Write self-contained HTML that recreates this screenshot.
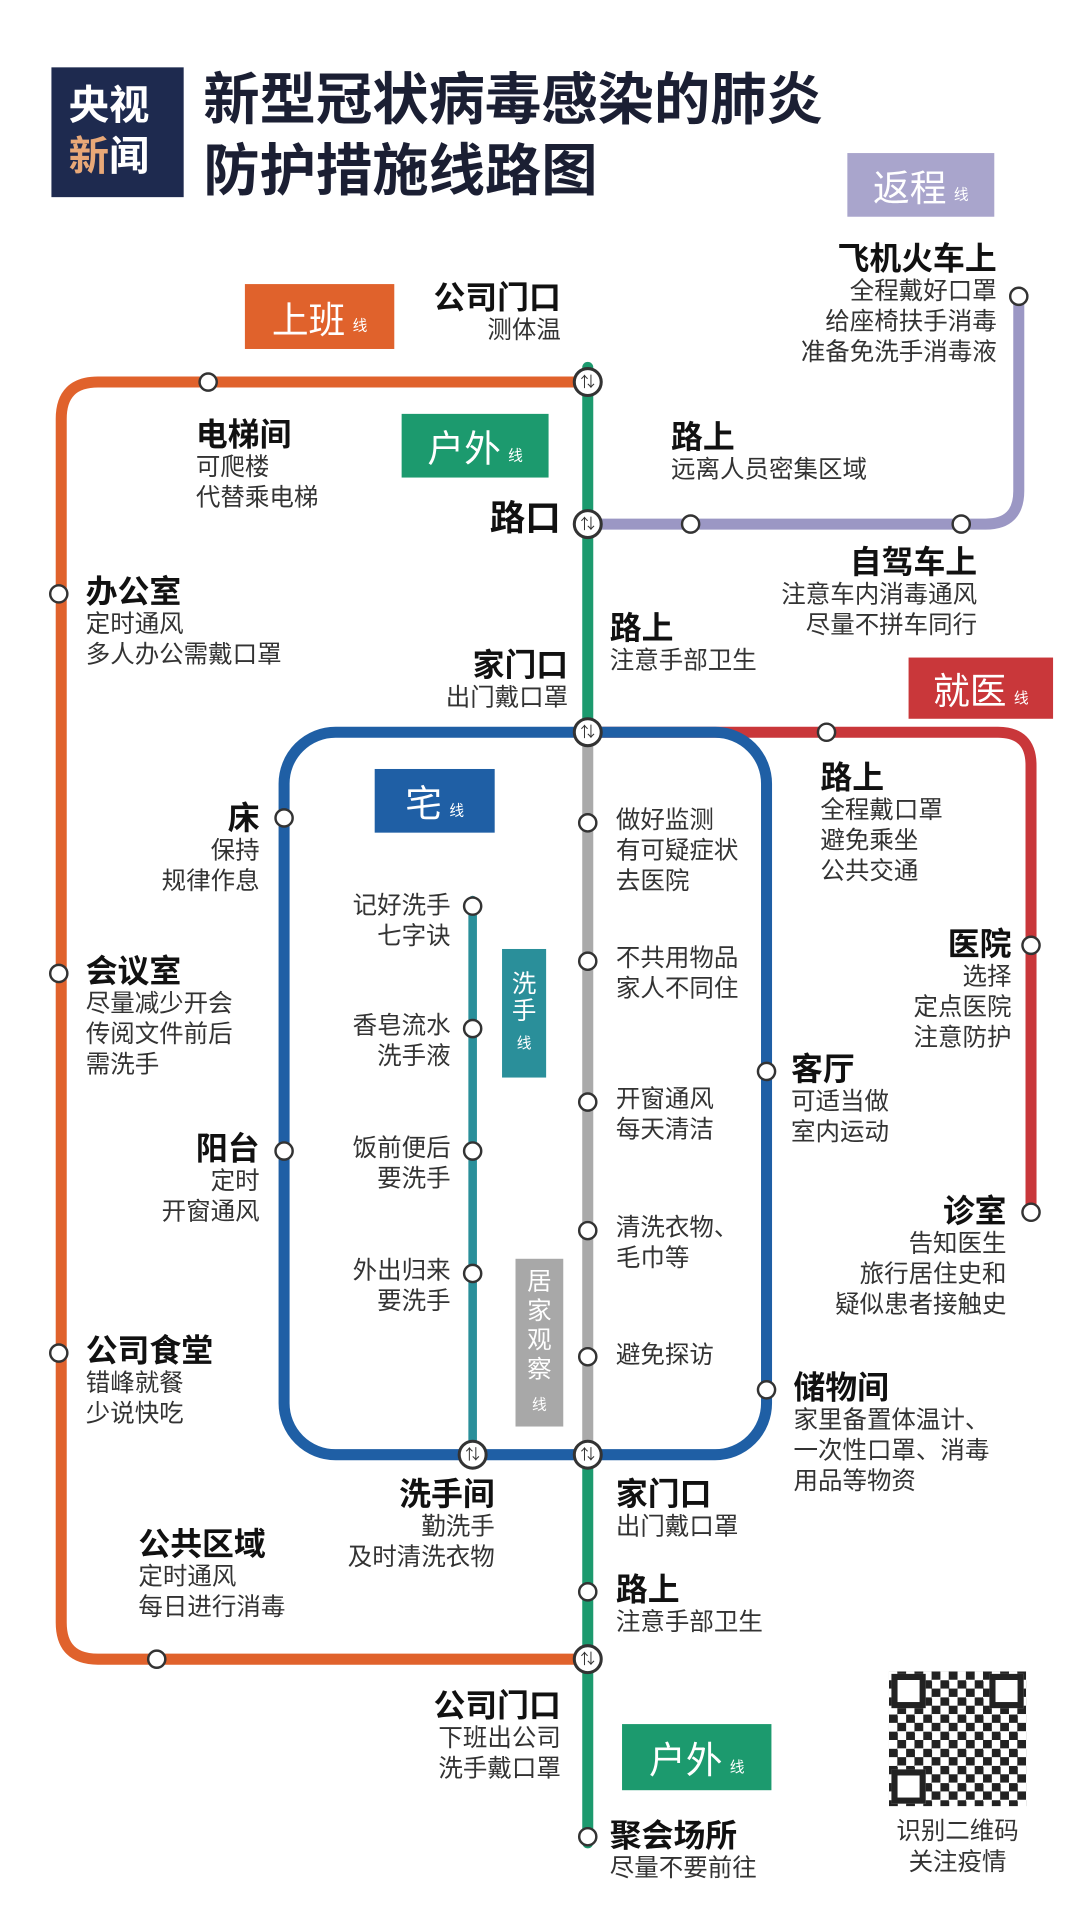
<!DOCTYPE html>
<html><head><meta charset="utf-8"><style>
body{margin:0;background:#fff;}
#w{position:relative;width:882px;height:1568px;transform:scale(1.22449);transform-origin:0 0;overflow:hidden;background:#fff;font-family:"Liberation Sans","Noto Sans CJK SC",sans-serif;color:#222;}
.a{position:absolute;white-space:nowrap;}
.n{font-size:26px;font-weight:bold;line-height:30px;color:#111;}
.d{font-size:20px;line-height:25px;color:#333;}
.r{text-align:right;}
.tag{position:absolute;color:#fff;font-size:30px;display:flex;align-items:center;justify-content:center;}
.tag small{font-size:12px;margin-left:6px;margin-top:14px;}
</style></head><body><div id="w">
<div class="a" style="left:42px;top:55px;width:108px;height:106px;background:#1e2a4f;color:#fff;font-weight:bold;font-size:33px;line-height:42px;padding:10px 0 0 14px;box-sizing:border-box;">央视<br><span style="color:#e8a878">新</span>闻</div>
<div class="a" style="left:166px;top:52px;font-size:46px;font-weight:bold;line-height:58px;color:#1b1f33;">新型冠状病毒感染的肺炎<br>防护措施线路图</div>
<div class="tag" style="left:692px;top:125px;width:120px;height:52px;background:#a9a5cc;">返程<small>线</small></div>
<div class="tag" style="left:200px;top:232px;width:122px;height:53px;background:#e0622c;">上班<small>线</small></div>
<div class="tag" style="left:328px;top:338px;width:120px;height:52px;background:#1c9a6e;">户外<small>线</small></div>
<div class="tag" style="left:742px;top:537px;width:118px;height:50px;background:#c9373a;">就医<small>线</small></div>
<div class="tag" style="left:306px;top:628px;width:98px;height:52px;background:#1f5fa5;">宅<small>线</small></div>
<div class="tag" style="left:410px;top:775px;width:36px;height:105px;background:#2a8f9a;font-size:20px;flex-direction:column;line-height:22px;">洗<br>手<small style="margin:4px 0 0">线</small></div>
<div class="tag" style="left:421px;top:1028px;width:39px;height:137px;background:#a8a8a8;font-size:20px;flex-direction:column;line-height:24px;">居<br>家<br>观<br>察<small style="margin:4px 0 0">线</small></div>
<div class="tag" style="left:508px;top:1408px;width:122px;height:54px;background:#1c9a6e;">户外<small>线</small></div>
<svg class="a" style="left:0;top:0" width="882" height="1568">
<g fill="none" stroke-linecap="round">
<path d="M480 312 H80 Q50 312 50 342 V1325 Q50 1355 80 1355 H480" stroke="#e0622c" stroke-width="9"/>
<path d="M480 428 H805 Q832 428 832 401 V242" stroke="#9b97c4" stroke-width="9"/>
<path d="M480 598 H815 Q842 598 842 625 V990" stroke="#c9373a" stroke-width="9"/>
<line x1="480" y1="300" x2="480" y2="598" stroke="#1c9a6e" stroke-width="9"/>
<line x1="480" y1="598" x2="480" y2="1188" stroke="#aaa" stroke-width="9"/>
<line x1="480" y1="1188" x2="480" y2="1505" stroke="#1c9a6e" stroke-width="9"/>
<rect x="232" y="598" width="394" height="590" rx="42" stroke="#1f5fa5" stroke-width="9"/>
<line x1="386" y1="735" x2="386" y2="1188" stroke="#2a8f9a" stroke-width="7"/>
</g>
<g fill="#fff" stroke="#333" stroke-width="2">
<circle cx="170" cy="312" r="7"/><circle cx="48" cy="485" r="7"/><circle cx="48" cy="795" r="7"/><circle cx="48" cy="1105" r="7"/><circle cx="128" cy="1355" r="7"/>
<circle cx="564" cy="428" r="7"/><circle cx="785" cy="428" r="7"/><circle cx="832" cy="242" r="7"/>
<circle cx="675" cy="598" r="7"/><circle cx="842" cy="772" r="7"/><circle cx="842" cy="990" r="7"/>
<circle cx="232" cy="668" r="7"/><circle cx="232" cy="940" r="7"/><circle cx="626" cy="875" r="7"/><circle cx="626" cy="1135" r="7"/>
<circle cx="480" cy="672" r="7"/><circle cx="480" cy="785" r="7"/><circle cx="480" cy="900" r="7"/><circle cx="480" cy="1005" r="7"/><circle cx="480" cy="1108" r="7"/>
<circle cx="386" cy="740" r="7"/><circle cx="386" cy="840" r="7"/><circle cx="386" cy="940" r="7"/><circle cx="386" cy="1040" r="7"/>
<circle cx="480" cy="1300" r="7"/><circle cx="480" cy="1500" r="7"/>
</g>
<g fill="#fff" stroke="#333" stroke-width="2.5">
<circle cx="480" cy="312" r="11"/><circle cx="480" cy="428" r="11"/><circle cx="480" cy="598" r="11"/><circle cx="480" cy="1188" r="11"/><circle cx="386" cy="1188" r="11"/><circle cx="480" cy="1355" r="11"/>
</g>
<g font-size="12" text-anchor="middle" fill="#333">
<text x="480" y="316">⇅</text><text x="480" y="432">⇅</text><text x="480" y="602">⇅</text><text x="480" y="1192">⇅</text><text x="386" y="1192">⇅</text><text x="480" y="1359">⇅</text>
</g>
</svg>
<div class="a r" style="right:424px;top:228px"><div class="n">公司门口</div><div class="d">测体温</div></div>
<div class="a r" style="right:68px;top:196px"><div class="n">飞机火车上</div><div class="d">全程戴好口罩<br>给座椅扶手消毒<br>准备免洗手消毒液</div></div>
<div class="a" style="left:160px;top:340px"><div class="n">电梯间</div><div class="d">可爬楼<br>代替乘电梯</div></div>
<div class="a" style="left:548px;top:342px"><div class="n">路上</div><div class="d">远离人员密集区域</div></div>
<div class="a n" style="left:400px;top:409px;font-size:29px">路口</div>
<div class="a r" style="right:84px;top:444px"><div class="n">自驾车上</div><div class="d">注意车内消毒通风<br>尽量不拼车同行</div></div>
<div class="a" style="left:70px;top:468px"><div class="n">办公室</div><div class="d">定时通风<br>多人办公需戴口罩</div></div>
<div class="a" style="left:498px;top:498px"><div class="n">路上</div><div class="d">注意手部卫生</div></div>
<div class="a r" style="right:418px;top:528px"><div class="n">家门口</div><div class="d">出门戴口罩</div></div>
<div class="a" style="left:670px;top:620px"><div class="n">路上</div><div class="d">全程戴口罩<br>避免乘坐<br>公共交通</div></div>
<div class="a r" style="right:670px;top:653px"><div class="n">床</div><div class="d">保持<br>规律作息</div></div>
<div class="a" style="left:503px;top:658px"><div class="d">做好监测<br>有可疑症状<br>去医院</div></div>
<div class="a r" style="right:514px;top:728px"><div class="d">记好洗手<br>七字诀</div></div>
<div class="a r" style="right:56px;top:756px"><div class="n">医院</div><div class="d">选择<br>定点医院<br>注意防护</div></div>
<div class="a" style="left:70px;top:778px"><div class="n">会议室</div><div class="d">尽量减少开会<br>传阅文件前后<br>需洗手</div></div>
<div class="a" style="left:503px;top:771px"><div class="d">不共用物品<br>家人不同住</div></div>
<div class="a r" style="right:514px;top:826px"><div class="d">香皂流水<br>洗手液</div></div>
<div class="a" style="left:646px;top:858px"><div class="n">客厅</div><div class="d">可适当做<br>室内运动</div></div>
<div class="a" style="left:503px;top:886px"><div class="d">开窗通风<br>每天清洁</div></div>
<div class="a r" style="right:670px;top:923px"><div class="n">阳台</div><div class="d">定时<br>开窗通风</div></div>
<div class="a r" style="right:514px;top:926px"><div class="d">饭前便后<br>要洗手</div></div>
<div class="a r" style="right:60px;top:974px"><div class="n">诊室</div><div class="d">告知医生<br>旅行居住史和<br>疑似患者接触史</div></div>
<div class="a" style="left:503px;top:991px"><div class="d">清洗衣物、<br>毛巾等</div></div>
<div class="a r" style="right:514px;top:1026px"><div class="d">外出归来<br>要洗手</div></div>
<div class="a" style="left:70px;top:1088px"><div class="n">公司食堂</div><div class="d">错峰就餐<br>少说快吃</div></div>
<div class="a" style="left:503px;top:1095px"><div class="d">避免探访</div></div>
<div class="a" style="left:648px;top:1118px"><div class="n">储物间</div><div class="d">家里备置体温计、<br>一次性口罩、消毒<br>用品等物资</div></div>
<div class="a r" style="right:478px;top:1205px"><div class="n">洗手间</div><div class="d">勤洗手<br>及时清洗衣物</div></div>
<div class="a" style="left:503px;top:1205px"><div class="n">家门口</div><div class="d">出门戴口罩</div></div>
<div class="a" style="left:113px;top:1246px"><div class="n">公共区域</div><div class="d">定时通风<br>每日进行消毒</div></div>
<div class="a" style="left:503px;top:1283px"><div class="n">路上</div><div class="d">注意手部卫生</div></div>
<div class="a r" style="right:424px;top:1378px"><div class="n">公司门口</div><div class="d">下班出公司<br>洗手戴口罩</div></div>
<div class="a" style="left:498px;top:1484px"><div class="n">聚会场所</div><div class="d">尽量不要前往</div></div>
<div class="a" style="left:726px;top:1365px;width:112px;height:110px;background:repeating-conic-gradient(#222 0 25%,#fff 0 50%) 0 0/14px 14px;"></div>
<div class="a" style="left:728px;top:1367px;width:28px;height:28px;border:5px solid #222;background:#fff;box-sizing:border-box"></div>
<div class="a" style="left:808px;top:1367px;width:28px;height:28px;border:5px solid #222;background:#fff;box-sizing:border-box"></div>
<div class="a" style="left:728px;top:1445px;width:28px;height:28px;border:5px solid #222;background:#fff;box-sizing:border-box"></div>
<div class="a d" style="left:728px;top:1484px;text-align:center;width:108px">识别二维码<br>关注疫情</div>
</div></body></html>
